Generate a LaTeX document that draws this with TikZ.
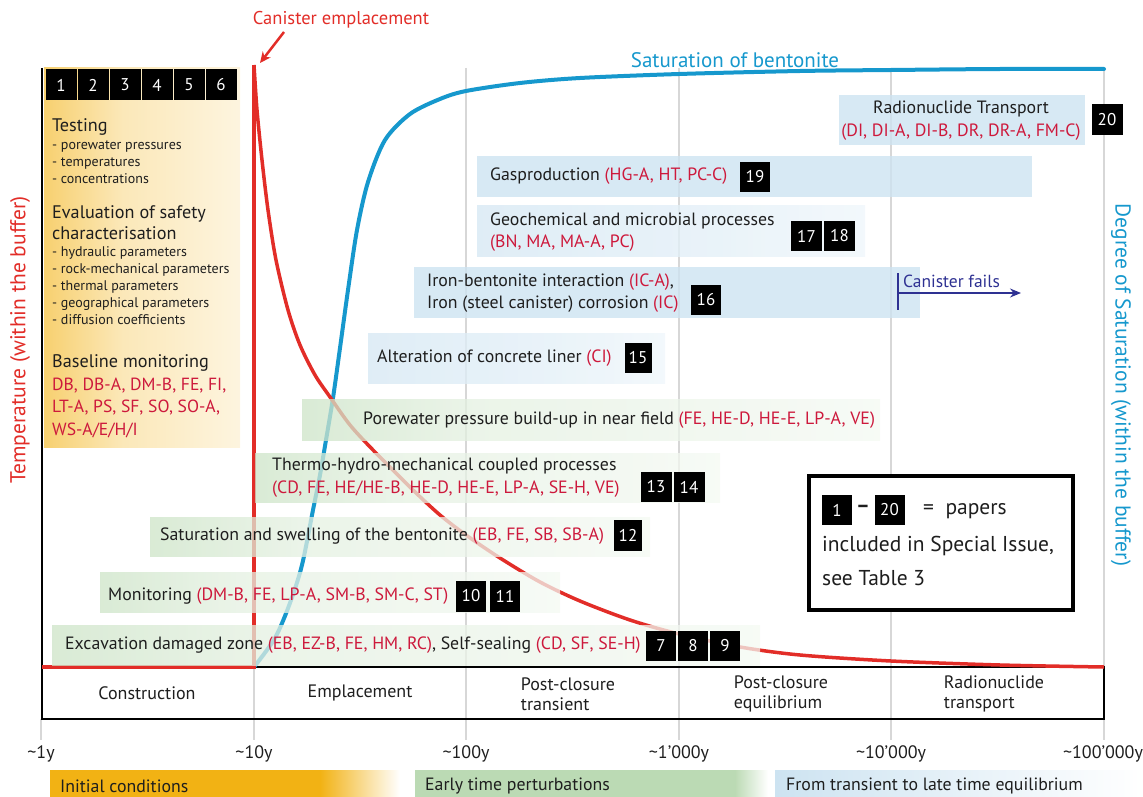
\documentclass[tikz,border=0pt]{standalone}
\usepackage{fontspec}
\setmainfont{PT Sans}
\usetikzlibrary{arrows.meta}
\definecolor{tred}{RGB}{226,45,40}
\definecolor{rtxt}{RGB}{205,25,60}
\definecolor{sblue}{RGB}{22,152,205}
\definecolor{boxgreen}{RGB}{165,206,155}
\definecolor{boxblue}{RGB}{205,227,241}
\definecolor{orng}{RGB}{242,178,20}
\definecolor{gridg}{RGB}{215,215,215}
\definecolor{dblue}{RGB}{46,49,146}
\definecolor{txt}{RGB}{30,30,30}
\pgfdeclarehorizontalshading{gbox}{100bp}{color(0bp)=(boxgreen); color(40bp)=(boxgreen!30!white); color(100bp)=(white)}
\pgfdeclarehorizontalshading{bbox}{100bp}{color(0bp)=(boxblue); color(55bp)=(boxblue!55!white); color(100bp)=(white)}
\pgfdeclarehorizontalshading{obox}{100bp}{color(0bp)=(orng); color(45bp)=(orng!30!white); color(100bp)=(white)}
\newcommand{\rt}[1]{\textcolor{rtxt}{#1}}
\tikzset{
  boxtxt/.style={inner sep=0pt, anchor=west, align=left, text=txt, font=\fontsize{17.8}{22.5}\selectfont},
  numbox/.style={fill=black, text=white, minimum width=30pt, minimum height=30pt, inner sep=0pt, font=\fontsize{17}{17}\selectfont},
  hd/.style={inner sep=0pt, anchor=west, align=left, text=txt, font=\fontsize{18.2}{22}\selectfont},
  sm/.style={inner sep=0pt, anchor=west, align=left, text=txt, font=\fontsize{14}{17}\selectfont},
  phase/.style={inner sep=0pt, align=left, text=txt, font=\fontsize{18}{20}\selectfont},
  tick/.style={inner sep=0pt, text=txt, font=\fontsize{18}{18}\selectfont},
  gridline/.style={gridg, line width=2pt},
  gbar/.style={shading=gbox, fill opacity=0.75},
  bluebar/.style={fill=boxblue, fill opacity=0.8},
  bgbar/.style={shading=bbox, fill opacity=0.8},
}
\begin{document}
\begin{tikzpicture}[x=1pt,y=-1pt]
\useasboundingbox (0,0) rectangle (1143,797);
% grid lines
\foreach \gx in {254,466,679,891,1104} {\draw[gridline] (\gx,68) -- (\gx,740);}
\draw[gridline] (41,719) -- (41,740);
% frame and phase box
\draw[line width=2.5pt] (42,68) -- (42,719) -- (1104,719) -- (1104,667) -- (42,667);
% saturation curve
\draw[sblue, line width=4pt, line cap=round] plot[smooth] coordinates {(254,667) (275,638) (290,603) (302,565) (313,510) (320,475) (326,440) (333,398) (340,348) (348,290) (357,230) (368,182) (385,140) (410,114) (440,99) (466,91) (520,83) (580,78) (679,74) (800,71) (891,70) (1000,69) (1104,69)};
% temperature curve
\draw[tred, line width=3.5pt] (42,667) -- (254,667) -- (254,65);
\draw[tred, line width=3.5pt] plot[smooth] coordinates {(254,65) (257,110) (262,160) (268,210) (276,260) (288,310) (300,345) (315,375) (330,397) (350,425) (373,450) (413,490) (440,515) (466,535) (500,558) (540,582) (580,601) (630,620) (679,634) (740,647) (800,655) (891,661) (1000,665) (1104,667)};
% process boxes
\shade[gbar] (52,625) rectangle (760,665);
\shade[gbar] (100,572) rectangle (560,612);
\shade[gbar] (150,517) rectangle (650,556);
\shade[gbar] (255,453) rectangle (720,502);
\shade[gbar] (302,399) rectangle (880,440);
\shade[bgbar] (368,333) rectangle (665,383);
\fill[bluebar] (414,267) rectangle (920,318);
\shade[bgbar] (477,205) rectangle (865,256);
\fill[bluebar] (477,156) rectangle (1032,197);
\fill[bluebar] (839,95) rectangle (1085,145);
% orange panel
\shade[shading=obox] (44,68) rectangle (240,447);
\node[numbox, minimum width=31pt, minimum height=31pt] (n1) at (61,85) {1};
\node[numbox, minimum width=31pt, minimum height=31pt] (n2) at (93,85) {2};
\node[numbox, minimum width=31pt, minimum height=31pt] (n3) at (125,85) {3};
\node[numbox, minimum width=31pt, minimum height=31pt] (n4) at (157,85) {4};
\node[numbox, minimum width=31pt, minimum height=31pt] (n5) at (189,85) {5};
\node[numbox, minimum width=31pt, minimum height=31pt] (n6) at (221,85) {6};
\node[hd] (testing) at (52,127) {Testing};
\node[sm] (testlist) at (52,162) {- porewater pressures\\- temperatures\\- concentrations};
\node[hd, font=\fontsize{18.2}{21}\selectfont] (evalhd) at (52,222.5) {Evaluation of safety\\characterisation};
\node[sm] (evallist) at (52,286) {- hydraulic parameters\\- rock-mechanical parameters\\- thermal parameters\\- geographical parameters\\- diffusion coefficients};
\node[hd] (basehd) at (52,363) {Baseline monitoring};
\node[hd, text=rtxt, font=\fontsize{17.6}{22.5}\selectfont] (baselist) at (52,407.5) {DB, DB-A, DM-B, FE, FI,\\LT-A, PS, SF, SO, SO-A,\\WS-A/E/H/I};
% box texts
\node[boxtxt] (exc) at (65,645) {Excavation damaged zone \rt{(EB, EZ-B, FE, HM, RC)}, Self-sealing \rt{(CD, SF, SE-H)}};
\node[numbox] (n7) at (661,646) {7};
\node[numbox] (n8) at (693,646) {8};
\node[numbox] (n9) at (725,646) {9};
\node[boxtxt] (mon) at (108,596) {Monitoring \rt{(DM-B, FE, LP-A, SM-B, SM-C, ST)}};
\node[numbox, minimum height=31pt] (n10) at (471,596) {10};
\node[numbox, minimum height=31pt] (n11) at (505,596) {11};
\node[boxtxt] (sat) at (160,536) {Saturation and swelling of the bentonite \rt{(EB, FE, SB, SB-A)}};
\node[numbox, minimum width=28pt, minimum height=31pt] (n12) at (628,535.5) {12};
\node[boxtxt] (thm) at (272,477.5) {Thermo-hydro-mechanical coupled processes\\\rt{(CD, FE, HE/HE-B, HE-D, HE-E, LP-A, SE-H, VE)}};
\node[numbox, minimum width=31pt] (n13) at (656,487) {13};
\node[numbox, minimum width=31pt] (n14) at (689,487) {14};
\node[boxtxt] (pore) at (363,420) {Porewater pressure build-up in near field \rt{(FE, HE-D, HE-E, LP-A, VE)}};
\node[boxtxt] (alt) at (377,358) {Alteration of concrete liner \rt{(CI)}};
\node[numbox, minimum width=27pt] (n15) at (638,358) {15};
\node[boxtxt] (iron) at (427,293) {Iron-bentonite interaction \rt{(IC-A)},\\Iron (steel canister) corrosion \rt{(IC)}};
\node[numbox] (n16) at (706,300) {16};
\node[boxtxt] (geo) at (490,232) {Geochemical and microbial processes\\\rt{(BN, MA, MA-A, PC)}};
\node[numbox, minimum width=31pt] (n17) at (806.5,236) {17};
\node[numbox, minimum width=31pt] (n18) at (839.5,236) {18};
\node[boxtxt] (gas) at (490,176) {Gasproduction \rt{(HG-A, HT, PC-C)}};
\node[numbox] (n19) at (755,177) {19};
\node[boxtxt, anchor=center, align=center] (radio) at (961,120.5) {Radionuclide Transport\\\rt{(DI, DI-A, DI-B, DR, DR-A, FM-C)}};
\node[numbox, minimum width=31pt, minimum height=31pt] (n20) at (1107,119.5) {20};
% canister fails
\coordinate (cfa) at (898,273);
\coordinate (cfb) at (898,310);
\coordinate (cfs) at (898,293);
\coordinate (cfe) at (1021,293);
\draw[dblue, line width=1.5pt] (cfa) -- (cfb);
\draw[dblue, line width=1.5pt, -{Stealth[length=11pt,width=9pt]}] (cfs) -- (cfe);
\node[inner sep=0pt, anchor=west, text=dblue, font=\fontsize{17.5}{17.5}\selectfont] (cftxt) at (903,281) {Canister fails};
% legend
\draw[line width=3.5pt, fill=white] (809,476) rectangle (1073,610);
\node[numbox] (lg1) at (837,510) {1};
\node[inner sep=0pt, text=txt, font=\fontsize{21}{21}\selectfont\bfseries] (lgdash) at (863,509) {–};
\node[numbox] (lg20) at (889.5,510) {20};
\node[inner sep=0pt, anchor=west, text=txt, font=\fontsize{21.5}{21.5}\selectfont] (lgeq) at (923,511) {=\ \ papers};
\node[inner sep=0pt, anchor=west, align=left, text=txt, font=\fontsize{21.5}{34}\selectfont] (lgtxt) at (822,561) {included in Special Issue,\\see Table 3};
% phase labels
\node[phase] (ph1) at (147,693) {Construction};
\node[phase] (ph2) at (360,693) {Emplacement};
\node[phase] (ph3) at (568,694) {Post-closure\\transient};
\node[phase] (ph4) at (781,694) {Post-closure\\equilibrium};
\node[phase] (ph5) at (994,694) {Radionuclide\\transport};
% ticks
\node[tick] (t1) at (41,754) {\textasciitilde1y};
\node[tick] (t2) at (254,754) {\textasciitilde10y};
\node[tick] (t3) at (466,754) {\textasciitilde100y};
\node[tick] (t4) at (679,754) {\textasciitilde1’000y};
\node[tick] (t5) at (891,754) {\textasciitilde10’000y};
\node[tick] (t6) at (1103,754) {\textasciitilde100’000y};
% bottom bars
\fill[orng] (50,770) rectangle (320,797);
\shade[left color=orng, right color=white] (320,770) rectangle (400,797);
\fill[boxgreen!75!white] (415,770) rectangle (735,797);
\shade[left color=boxgreen!75!white, right color=white] (735,770) rectangle (768,797);
\shade[left color=boxblue, right color=white] (775,770) rectangle (1143,797);
\node[boxtxt] (bb1) at (60,786) {Initial conditions};
\node[boxtxt] (bb2) at (425,786) {Early time perturbations};
\node[boxtxt] (bb3) at (786,786) {From transient to late time equilibrium};
% titles
\node[inner sep=0pt, text=tred, font=\fontsize{18.5}{18.5}\selectfont] (canem) at (341,20) {Canister emplacement};
\coordinate (caa) at (284,32);
\coordinate (cab) at (260,63);
\draw[tred, line width=2.5pt, -{Stealth[length=11pt,width=10pt]}] (caa) -- (cab);
\node[inner sep=0pt, text=sblue, font=\fontsize{21}{21}\selectfont] (sattitle) at (735,60) {Saturation of bentonite};
\node[inner sep=0pt, rotate=90, text=tred, font=\fontsize{21.5}{21.5}\selectfont] (tlab) at (20,340) {Temperature (within the buffer)};
\node[inner sep=0pt, rotate=-90, text=sblue, font=\fontsize{21.5}{21.5}\selectfont] (slab) at (1121,385) {Degree of Saturation (within the buffer)};
\end{tikzpicture}
\end{document}
